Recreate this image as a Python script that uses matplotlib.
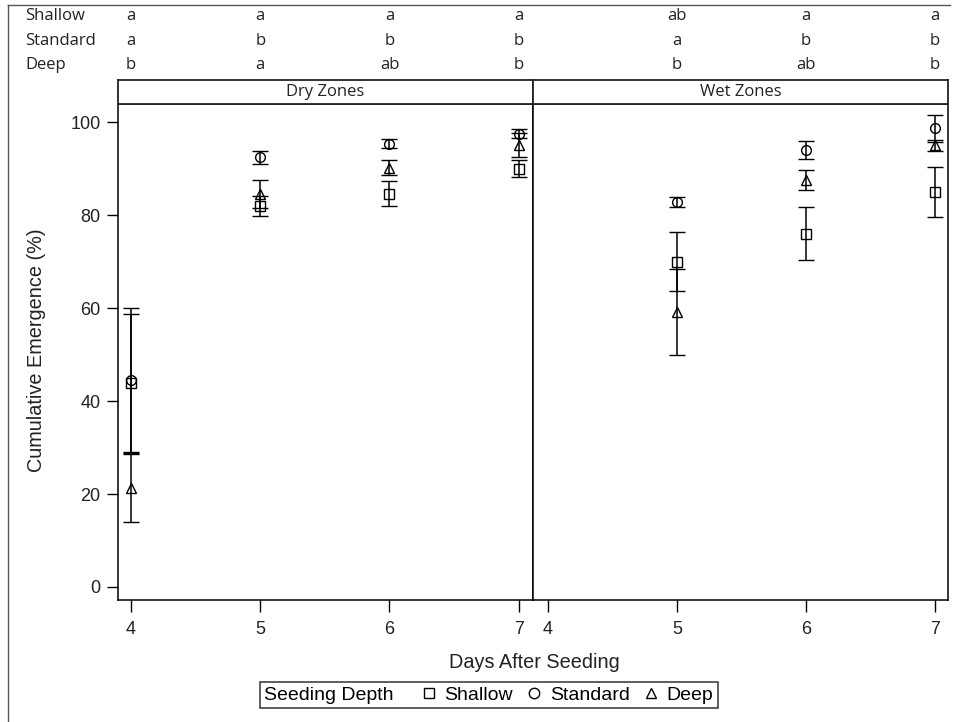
import matplotlib
matplotlib.use("Agg")
import matplotlib.pyplot as plt
import numpy as np
from matplotlib.lines import Line2D
from matplotlib.offsetbox import HPacker
from matplotlib.transforms import blended_transform_factory

plt.rcParams["font.family"] = ["Liberation Sans", "DejaVu Sans"]

# ---- data ----------------------------------------------------------------
depths = ["Shallow", "Standard", "Deep"]
markers = ["s", "o", "^"]

dry_days = [4, 5, 6, 7]
dry_shallow = [43.8, 82.0, 84.6, 90.0]
dry_shallow_err = [15.0, 2.1, 2.7, 1.9]
dry_standard = [44.5, 92.4, 95.4, 97.5]
dry_standard_err = [15.5, 1.4, 0.9, 1.0]
dry_deep = [21.3, 84.5, 90.2, 95.0]
dry_deep_err = [7.3, 3.0, 1.6, 2.6]

wet_days = [5, 6, 7]
wet_shallow = [70.0, 76.0, 85.0]
wet_shallow_err = [6.4, 5.7, 5.4]
wet_standard = [82.8, 94.0, 98.7]
wet_standard_err = [1.1, 1.9, 2.9]
wet_deep = [59.2, 87.6, 95.0]
wet_deep_err = [9.2, 2.1, 1.2]

# mean-separation letters for each depth, per day
dry_letters_shallow = ["a", "a", "a", "a"]
dry_letters_standard = ["a", "b", "b", "b"]
dry_letters_deep = ["b", "a", "ab", "b"]
wet_letters_shallow = ["ab", "a", "a"]
wet_letters_standard = ["a", "b", "b"]
wet_letters_deep = ["b", "ab", "b"]

panel_titles = ["Dry Zones", "Wet Zones"]
x_ticks = [4, 5, 6, 7]
y_ticks = [0, 20, 40, 60, 80, 100]

# ---- layout --------------------------------------------------------------
W, H = 956, 722
fig = plt.figure(figsize=(W / 100, H / 100), dpi=100)

def fx(px):
    return px / W

def fy(py):
    return 1 - py / H

left, mid, right = fx(118), fx(533), fx(948)
bottom, top = fy(600), fy(104)
head_top = fy(80)

ax_dry = fig.add_axes([left, bottom, mid - left, top - bottom])
ax_wet = fig.add_axes([mid, bottom, right - mid, top - bottom])

tick_fs = 13
label_fs = 14.3
legend_fs = 14
letter_font = ["Open Sans", "DejaVu Sans"]
letter_fs = 12

panels = [
    (ax_dry, dry_days,
     [(dry_shallow, dry_shallow_err), (dry_standard, dry_standard_err), (dry_deep, dry_deep_err)],
     [dry_letters_shallow, dry_letters_standard, dry_letters_deep], (3.9, 7.11)),
    (ax_wet, wet_days,
     [(wet_shallow, wet_shallow_err), (wet_standard, wet_standard_err), (wet_deep, wet_deep_err)],
     [wet_letters_shallow, wet_letters_standard, wet_letters_deep], (3.885, 7.1)),
]

row_y = [fy(16), fy(41), fy(65)]

for i, (ax, days, series, letters, xlim) in enumerate(panels):
    for (vals, errs), m in zip(series, markers):
        ax.errorbar(days, vals, yerr=errs, fmt=m, ls="none", color="black",
                    mfc="none", mec="black", ms=7, mew=1.0,
                    elinewidth=1.1, capsize=5.8, capthick=1.1)
    ax.set_xlim(*xlim)
    ax.set_ylim(-2.8, 103.9)
    ax.set_xticks(x_ticks)
    ax.set_xticklabels([str(t) for t in x_ticks], fontsize=tick_fs)
    ax.tick_params(axis="x", direction="out", length=8.4, width=1.0, pad=7,
                   colors="black", labelcolor="#222222")
    for sp in ax.spines.values():
        sp.set_linewidth(1.1)
        sp.set_color("black")
    if i == 0:
        ax.set_yticks(y_ticks)
        ax.set_yticklabels([str(t) for t in y_ticks], fontsize=tick_fs)
        ax.tick_params(axis="y", direction="out", length=7.6, width=1.0, pad=5,
                       labelcolor="#222222")
    else:
        ax.set_yticks([])

    # panel header strip
    pos = ax.get_position()
    hax = fig.add_axes([pos.x0, top, pos.width, head_top - top])
    hax.set_xticks([])
    hax.set_yticks([])
    for sp in hax.spines.values():
        sp.set_linewidth(1.3)
        sp.set_color("#222222")
    hax.text(0.5, 0.5, panel_titles[i], ha="center", va="center",
             fontsize=letter_fs, family=letter_font, color="#222222")

    # letters above the panels, aligned with the day positions
    tr = blended_transform_factory(ax.transData, fig.transFigure)
    for row, ys in zip(letters, row_y):
        for d, s in zip(days, row):
            ax.text(d, ys, s, transform=tr, ha="center", va="center",
                    fontsize=letter_fs, family=letter_font, color="#222222",
                    clip_on=False)

for name, ys in zip(depths, row_y):
    fig.text(fx(25), ys, name, ha="left", va="center",
             fontsize=letter_fs, family=letter_font, color="#222222")

fig.text(fx(37), fy(350), "Cumulative Emergence (%)", rotation=90,
         ha="center", va="center", fontsize=label_fs, color="#222222")
fig.text(fx(534), fy(663), "Days After Seeding", ha="center", va="center",
         fontsize=label_fs, color="#222222")

# legend with the title placed inline, left of the entries
handles = [Line2D([], [], marker=m, ls="none", mfc="none", mec="black",
                  ms=7.5, mew=1.0) for m in markers]
leg = fig.legend(handles, depths, title="Seeding Depth", ncol=3,
                 loc="center", bbox_to_anchor=(fx(489), fy(695)),
                 frameon=True, fancybox=False, edgecolor="black",
                 fontsize=legend_fs, title_fontsize=legend_fs,
                 handlelength=0.7, handletextpad=0.45, columnspacing=0.75,
                 borderpad=0.22)
leg.get_frame().set_linewidth(1.1)
fs = leg._fontsize
inline = HPacker(pad=leg.borderpad * fs, sep=1.45 * fs, align="center",
                 children=[leg._legend_title_box, leg._legend_handle_box])
inline.set_figure(fig)
inline.set_offset(leg._findoffset)
leg._legend_box = inline

# outer frame of the graphic
fig.add_artist(Line2D([fx(8), fx(8)], [0, fy(5)], transform=fig.transFigure,
                      color="#555555", lw=1.0))
fig.add_artist(Line2D([fx(8), fx(950)], [fy(5), fy(5)], transform=fig.transFigure,
                      color="#555555", lw=1.0))

fig.savefig("out.png", dpi=100)
